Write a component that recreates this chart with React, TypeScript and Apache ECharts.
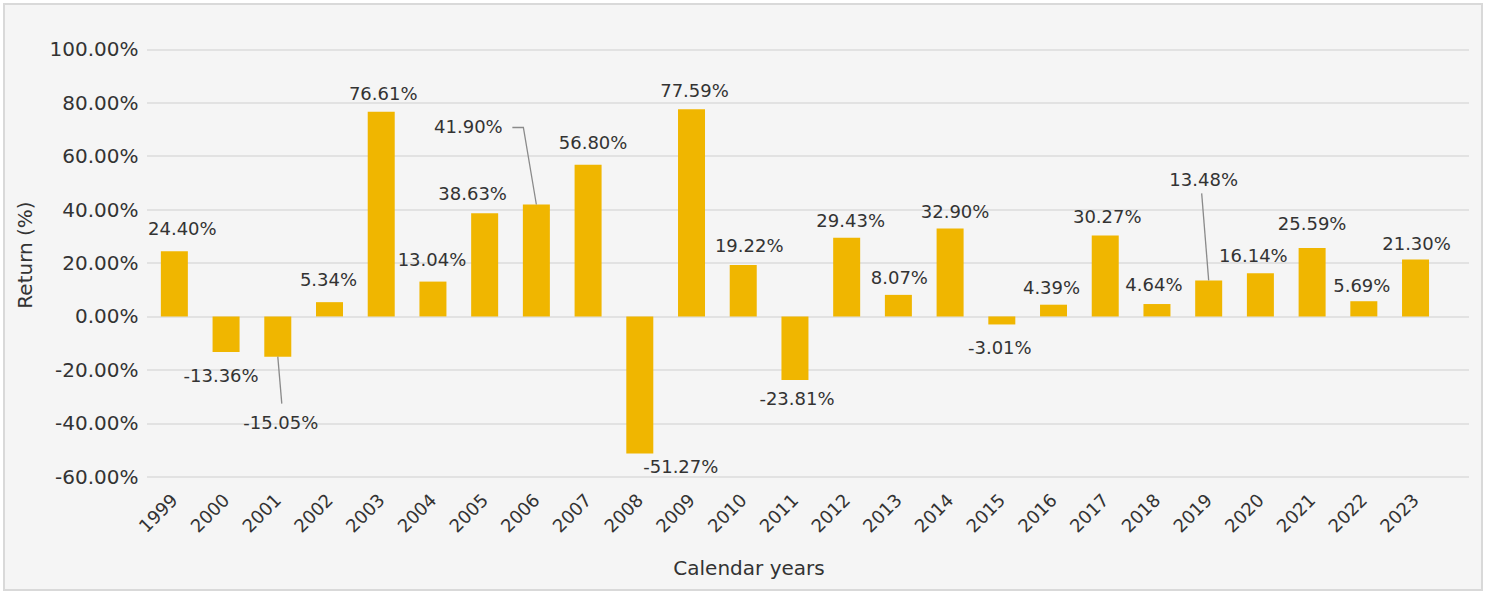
import React, { useEffect, useRef } from "react";
import * as echarts from "echarts";

const years = [
  "1999", "2000", "2001", "2002", "2003", "2004", "2005", "2006", "2007", "2008",
  "2009", "2010", "2011", "2012", "2013", "2014", "2015", "2016", "2017", "2018",
  "2019", "2020", "2021", "2022", "2023",
];
const returns = [
  24.40, -13.36, -15.05, 5.34, 76.61, 13.04, 38.63, 41.90, 56.80, -51.27,
  77.59, 19.22, -23.81, 29.43, 8.07, 32.90, -3.01, 4.39, 30.27, 4.64,
  13.48, 16.14, 25.59, 5.69, 21.30,
];
const yMin = -60;
const yMax = 100;
const yStep = 20;

// label displacement (pixels) from the bar end, as placed in the original
const labelOffsets: number[][] = [
  [8, -23], [-5, 23], [3, 66], [-1, -23], [2, -18], [-1, -22], [-12, -20], [-68, -78],
  [5, -22], [41, 13], [3, -19], [6, -20], [2, 18], [4, -17], [1, -17], [5, -17],
  [-2, 23], [-2, -17], [2, -19], [-3, -20], [-5, -101], [-7, -18], [0, -25], [-2, -16],
  [1, -16],
];
// leader lines: category index and polyline points relative to the bar end
const leaderIdx = [2, 7, 20];
const leaderPts: number[][][] = [
  [[0, 0], [4, 47]],
  [[0, 0], [-13, -77], [-24, -77]],
  [[0, 0], [-7, -87]],
];

const TEXT = "#333333";
const FONT = "DejaVu Sans";

export default function App() {
  const ref = useRef<HTMLDivElement>(null);
  useEffect(() => {
    if (!ref.current) return;
    const chart = echarts.init(ref.current, null, { renderer: "svg" });
    const gTop = 49.3;
    const gH = 427.4;
    chart.setOption({
      animation: false,
      backgroundColor: "transparent",
      textStyle: { fontFamily: FONT },
      grid: [
        { left: 148.5, top: gTop, width: 1292.9, height: gH },
        { left: 147, top: gTop, width: 1322, height: gH },
      ],
      xAxis: [
        {
          type: "category",
          gridIndex: 0,
          data: years,
          axisLine: { show: false, onZero: false },
          axisTick: { show: false },
          axisLabel: {
            rotate: 45,
            interval: 0,
            margin: 20,
            fontSize: 18,
            color: TEXT,
            fontFamily: FONT,
          },
        },
        { type: "value", gridIndex: 1, min: 0, max: 1, show: false },
      ],
      yAxis: [
        {
          type: "value",
          gridIndex: 0,
          min: yMin,
          max: yMax,
          interval: yStep,
          splitLine: { show: false },
          axisLine: { show: false },
          axisTick: { show: false },
          axisLabel: {
            margin: 10,
            fontSize: 20,
            color: TEXT,
            fontFamily: FONT,
            padding: [0, 0, 7, 0],
            formatter: (v: number) => v.toFixed(2) + "%",
          },
        },
        {
          type: "value",
          gridIndex: 1,
          min: yMin,
          max: yMax,
          interval: yStep,
          axisLine: { show: false },
          axisTick: { show: false },
          axisLabel: { show: false },
          splitLine: { show: true, lineStyle: { color: "#e2e2e2", width: 2 } },
        },
      ],
      series: [
        {
          type: "bar",
          xAxisIndex: 0,
          yAxisIndex: 0,
          data: returns,
          barWidth: 27,
          itemStyle: { color: "#F0B600" },
          z: 2,
        },
        {
          type: "custom",
          xAxisIndex: 0,
          yAxisIndex: 0,
          data: leaderIdx.map((i) => [i, returns[i]]),
          z: 3,
          silent: true,
          renderItem: (params: any, api: any) => {
            const p = api.coord([api.value(0), api.value(1)]);
            const pts = leaderPts[params.dataIndex].map(([dx, dy]) => [p[0] + dx, p[1] + dy]);
            return {
              type: "polyline",
              shape: { points: pts },
              style: { stroke: "#8a8a8a", lineWidth: 1.3, fill: null },
            };
          },
        },
        {
          type: "scatter",
          xAxisIndex: 0,
          yAxisIndex: 0,
          symbolSize: 1,
          silent: true,
          z: 4,
          itemStyle: { color: "#F0B600", opacity: 0 },
          data: returns.map((v, i) => ({
            value: v,
            label: { offset: labelOffsets[i] },
          })),
          label: {
            show: true,
            position: "inside",
            fontSize: 18,
            color: TEXT,
            opacity: 1,
            textBorderWidth: 0,
            textBorderColor: "transparent",
            fontFamily: FONT,
            formatter: (p: any) => (p.value as number).toFixed(2) + "%",
          },
        },
      ],
      graphic: [
        {
          type: "text",
          x: 25,
          y: 255,
          rotation: Math.PI / 2,
          style: {
            text: "Return (%)",
            fontSize: 20,
            fontFamily: FONT,
            fill: TEXT,
            align: "center",
            verticalAlign: "middle",
          },
        },
        {
          type: "text",
          x: 749,
          y: 568,
          style: {
            text: "Calendar years",
            fontSize: 20,
            fontFamily: FONT,
            fill: TEXT,
            align: "center",
            verticalAlign: "middle",
          },
        },
      ],
    });
    return () => chart.dispose();
  }, []);

  return (
    <div style={{ position: "fixed", left: 0, top: 0, width: 1491, height: 592, background: "#ffffff" }}>
      <div
        style={{
          position: "absolute",
          left: 3,
          top: 3,
          width: 1480,
          height: 588,
          boxSizing: "border-box",
          border: "2px solid #d9d9d9",
          background: "#f5f5f5",
        }}
      />
      <div ref={ref} style={{ position: "absolute", left: 0, top: 0, width: 1491, height: 592 }} />
    </div>
  );
}
